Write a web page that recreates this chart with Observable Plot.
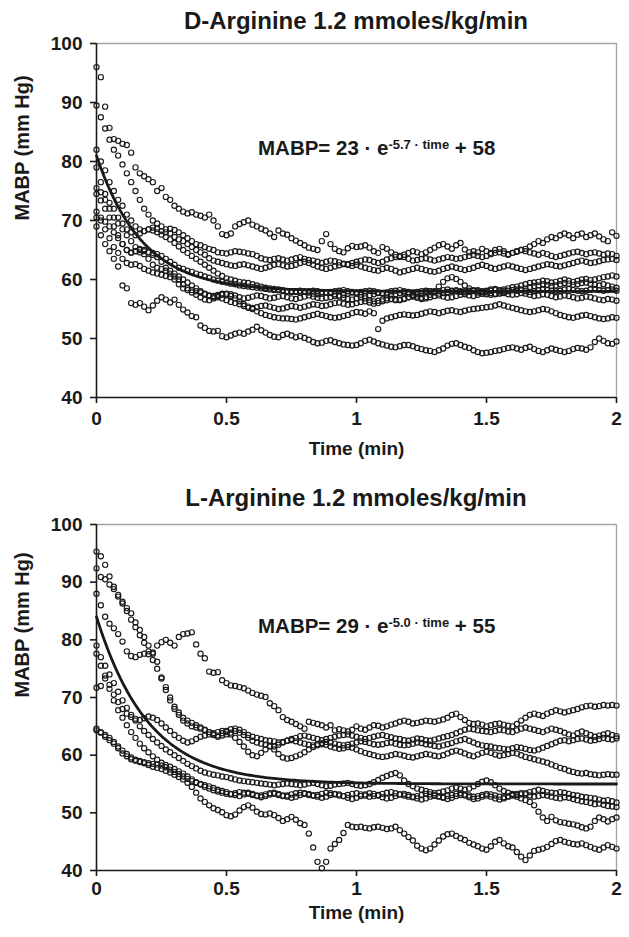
<!DOCTYPE html>
<html>
<head>
<meta charset="utf-8">
<script src="https://cdn.jsdelivr.net/npm/d3@7"></script>
<script src="https://cdn.jsdelivr.net/npm/@observablehq/plot@0.6"></script>
<style>
  html, body { margin: 0; padding: 0; background: #fff; }
  body { font-family: "Liberation Sans", Arial, sans-serif; color: #1a1a1a; }
  #wrap { position: relative; width: 629px; height: 937px; overflow: hidden; }
  .panel { position: absolute; left: 0; width: 629px; }
  .title { position: absolute; left: 96px; width: 520px; text-align: center; font-weight: bold; font-size: 24px; line-height: 24px; white-space: nowrap; }
  .eq { position: absolute; font-weight: bold; font-size: 20.5px; line-height: 20px; white-space: nowrap; }
  .eq sup { font-size: 13px; position: relative; top: -3px; vertical-align: top; }
</style>
</head>
<body>
<div id="wrap"></div>
<script>
// ---------- DATA ----------
const sampleStepMin = 1 / 60;           // one sample per second
const xTicks = [0, 0.5, 1, 1.5, 2];
const xTickLabels = ["0", "0.5", "1", "1.5", "2"];
const yTicks = [40, 50, 60, 70, 80, 90, 100];
const xAxisLabel = "Time (min)";
const yAxisLabel = "MABP (mm Hg)";
const dTitle = "D-Arginine 1.2 mmoles/kg/min";
const lTitle = "L-Arginine 1.2 mmoles/kg/min";
const dFit = {amp: 23, rate: 5.7, base: 58};
const lFit = {amp: 29, rate: 5.0, base: 55};

// D-Arginine traces (MABP, mm Hg, one value per second, 0..120 s)
const dA = [96,94.3,89.3,85.7,83.8,83.5,83,82.8,81.5,79, 78,77.5,77,76.5,75,75.5,74,73.5,72.5,72, 71.5,71.2,71.4,71,70.8,70.5,71,70,69,67.7, 67.5,67.8,69,69.4,69.7,70,69.3,69,68.6,68.3, 67.8,67.2,68.3,67.8,67.6,67,66.6,66.2,65.8,65.4, 65.2,65,66.5,67.7,66,65.2,64.8,64.6,65.3,65.7, 65.5,65.6,65.8,65.4,64.8,64.5,65.5,65.2,64.6,64.2, 63.8,64.2,64.5,64.8,64.6,64.3,64.6,65,65.4,65.8, 66,65.6,65.2,65.8,66.2,65.1,64.6,64.8,64.6,65.2, 64.8,64.5,65,65.2,64.8,64.3,64.5,64.7,65,65.2, 65.6,66,66.5,66.2,66.8,67.2,67,67.5,67.8,67.5, 67,67.6,67.8,67.2,67.5,67.8,67.3,66.8,66.5,68, 67.4];
const dB = [89.5,87.5,85.6,83.7,82,81,79.5,78,76.5,75, 73.5,72,71,70,69.5,69,68.5,68.6,68.4,68, 67.5,67,66.5,66,65.8,65.5,65.2,65,64.6,64.5, 64.4,64.6,64.8,64.7,64.6,64.4,64.3,64,63.6,63.4, 63.3,63.5,63.6,63.4,63.2,63.4,63.6,63.8,63.5,63.3, 63.2,63,62.8,63,63.2,63.1,62.9,62.7,62.6,62.8, 63,63.2,63.4,63.3,63,62.8,63,63.4,63.6,63.8, 64,63.8,63.5,63.2,63.3,63.5,63.6,63.4,63.2,63.4, 63.6,63.8,63.7,63.5,63.6,63.8,64,64.2,64,63.8, 64,64.3,64.5,64.6,64.4,64.2,64.5,64.8,65,64.8, 64.6,64.4,64.2,64.5,64.3,64,63.8,64,64.2,64.4, 64.6,64.7,64.5,64.3,64.5,64.6,64.4,64.2,64.4,64.3, 64];
const dC = [82,80,78.5,76.5,75,73.5,72.5,71,70,69, 68.5,68.2,68.5,68.8,68.6,68.2,68,67.8,67.2,66.8, 66.5,66,65.5,65,64.6,64.2,63.6,63.2,63,62.8, 62.6,62.4,62.3,62.5,62.6,62.4,62.2,62,61.8,62, 62.2,62.5,62.6,62.4,62.2,62.3,62.5,62.8,63,62.8, 62.5,62.2,62,61.8,62,62.2,62.4,62.6,62.5,62.3, 62.5,62.2,62,61.8,61.6,61.5,61.8,62,61.8,61.5, 61.2,61.4,61.6,61.8,62,61.8,61.6,61.4,61.3,61.5, 61.8,62,62.2,62,61.8,61.6,61.8,62,62.3,62.5, 62.3,62,61.8,62,62.2,62.4,62.2,62,61.8,61.6, 61.8,62,62.2,62.4,62.6,62.5,62.3,62.2,62.4,62.6, 62.8,63,63.2,63,62.8,62.9,63.1,63.3,63.4,63.5, 63.3];
const dD = [79,76.5,74.5,73,72,70.5,69.5,68.5,68,67.5, 67.8,68.2,68.5,68.3,68,67.6,67.2,66.8,66.2,65.6, 65,64.5,64,63.5,63,62.5,62,61.5,61,60.6, 60.2,60,59.8,59.6,59.5,59.4,59.2,59,58.8,58.6, 58.5,58.4,58.3,58.2,58,57.9,58,58.1,58,57.8, 57.6,57.5,57.6,57.8,57.7,57.5,57.3,57.4,57.6,57.8, 57.6,57.4,57.2,57.3,57.5,57.7,57.6,57.4,57.3,57.5, 57.7,57.8,57.6,57.4,57.5,57.7,57.9,58,57.8,57.6, 57.7,57.9,58,58.2,58,57.8,57.9,58.1,58.2,58, 58.1,58.3,58.4,58.2,58.3,58.5,58.7,58.8,59,59.2, 59.4,59.5,59.6,59.8,59.7,59.5,59.6,59.8,60,59.8, 59.6,59.8,60,60.1,59.9,60,60.2,60.4,60.5,60.7, 60.5];
const dE = [75.5,74.8,73.5,72,70.5,69.5,68.5,67.5,66.5,65.5, 65,64.8,64.6,64.5,64.3,64,63.5,63,62.5,62, 61.8,61.5,61.3,61,60.8,60.5,60.3,60,59.8,59.6, 59.5,59.3,59.2,59,58.9,58.8,58.7,58.6,58.5,58.4, 58.3,58.2,58.2,58.1,58,58,57.9,57.8,57.9,58, 58.1,58,57.9,57.8,57.9,58,58.1,58.2,58,57.9, 57.8,57.9,58,58.1,58,57.8,57.7,57.8,58,58.1, 58.2,58,57.9,57.8,57.9,58,58.1,58,57.9,58, 58.2,58.3,58.1,58,57.9,58,58.1,58.2,58,57.9, 58,58.1,58.2,58.1,58,58.1,58.2,58.3,58.2,58, 57.9,58,58.2,58.3,58.2,58.1,58,58.1,58.3,58.4, 58.2,58.1,58,58.1,58.3,58.4,58.2,58.1,58.2,58.3, 58.1];
const dF = [74.5,73.4,72,70.5,69,67.5,66,65,64.5,64.8, 65.2,65,64.6,64.2,63.8,63,62,61.5,61,60.5, 60,59.5,59,58.5,58,57.6,57.2,57,57.2,57.4, 57.6,57.5,57.3,57,56.8,56.9,57.1,57.3,57.2,57, 56.8,56.9,57.1,57.2,57,56.8,56.7,56.9,57.1,57.3, 57.1,56.9,56.8,56.9,57,57.2,57.1,56.9,56.7,56.6, 56.8,57,56.8,56.5,56.3,56.4,56.6,56.8,56.7,56.5, 56.6,56.8,57,57.1,56.9,56.7,56.8,57,57.2,57.3, 57.1,56.9,57,57.2,57.4,57.5,57.3,57.2,57.4,57.6, 57.8,57.7,57.5,57.6,57.8,58,58.2,58.1,58.3,58.5, 58.7,58.9,59,59.2,59.1,58.9,59,59.2,59.4,59.3, 59.1,59.2,59.4,59.5,59.3,59.1,59,59.2,59,58.8, 58.6];
const dG = [71.5,70.5,69.8,69,68,67,66,65,64.6,64.8, 64.6,64.3,63.5,62.5,62,61.8,61.5,61,60.5,60, 59.2,58.5,58.2,58,57.8,57.5,57.3,57.2,57.4,57.6, 57.5,57.2,56.8,56.3,55.8,55.4,55.2,55.3,55.5,55.6, 55.4,55.2,55,55.1,55.3,55.5,55.4,55.2,55.4,55.6, 55.8,55.7,55.5,55.6,55.8,56,56.1,55.9,55.7,55.8, 56,56.2,56.3,56.1,55.9,56,56.3,56.5,56.7,56.6, 56.5,56.7,57,57.2,57.1,56.9,57,57.4,58,58.8, 59.6,60.2,60.4,60.1,59.6,59,58.5,58.1,57.8,57.6, 57.5,57.4,57.6,57.8,57.7,57.5,57.4,57.5,57.7,57.6, 57.4,57.2,57.3,57.5,57.4,57.2,57,57.1,57.3,57.2, 57,56.8,56.9,57.1,57,56.8,56.6,56.5,56.7,56.6, 56.4];
const dH = [70.5,70,68.5,67,65.5,64.5,63.5,62.8,62.5,62.6, 62.3,61.8,61.5,61.2,61,60.8,60.6,60.4,60,59.2, 58.5,58.2,57.8,57.4,57,56.6,56.5,56.8,57,56.8, 56.5,56.2,56,55.8,55.5,55.2,55,54.6,54.3,54, 53.8,53.6,53.5,53.4,53.4,53.3,53.2,53.4,53.6,53.8, 54,54.2,54,53.8,53.6,53.5,53.6,53.8,54,54.3, 54.5,54.4,54.2,54.6,54.3,51.6,53,53.4,53.6,53.8, 54,54.1,54,53.9,54,54.2,54.4,54.6,54.5,54.3, 54.5,54.7,54.8,54.6,54.5,54.7,54.9,55,55.1,55.2, 55.3,55.4,55.6,55.8,55.6,55.4,55.2,55,54.8,54.6, 54.5,54.6,54.8,55,54.9,54.6,54.3,54,53.8,53.6, 53.5,53.7,53.9,54,53.8,53.6,53.4,53.3,53.4,53.6, 53.5];
const dI = [69,67.5,66,64.8,63.5,62.2,59,58.5,56,55.7, 56,55.4,54.8,55.6,56.4,57,56.6,56.1,56.6,55.7, 54.9,54.4,53.8,53.6,52.2,51.8,51.3,51.2,51.3,50.4, 50.2,50.5,50.8,51,50.8,51.2,51.5,52,51.4,51, 50.6,50.3,50.2,50.6,50.8,50.5,50.2,50.4,50.1,49.8, 49.4,49.2,49.3,49.6,49.7,49.4,49.2,49,48.9,48.8, 48.9,49.2,49.6,49.8,49.5,49.2,49,48.8,48.6,48.5, 48.7,48.9,48.9,48.7,48.4,48.2,48,47.9,47.7,48, 48.3,48.8,49.1,49.2,48.9,48.6,48.4,48,47.7,47.5, 47.6,47.7,47.9,48,48.2,48.4,48.5,48.3,48.1,48.4, 48.6,48.2,47.9,47.7,48,48.3,48.1,47.9,47.7,47.9, 48.2,48.4,48.3,48.1,48.5,49.4,50,49.6,49.2,49.1, 49.5];

// L-Arginine traces
const lA = [88,86,84,82.8,82,81,79.7,78,77.2,77, 77.4,77.6,77.5,77.8,79,79.6,80,79.5,79,80.5, 81,81.1,81.3,79.2,77.6,76.8,74.5,74.3,74.4,73, 72.5,72.1,72,71.8,71.6,71.2,70.8,70.5,70.3,70.1, 69,68.5,67.8,66.6,66.1,65.8,65.4,65,64.6,65.8, 65.6,65.4,65.2,64.8,65.2,64.3,64.5,64.3,64.1,64.4, 65,64.6,64.4,64.8,65.2,65.1,64.8,65,65.3,65.5, 65.8,66,65.8,65.5,65.6,65.8,66,65.9,65.8,66, 66.2,66.5,67,67.2,66.6,66.1,65.6,65.4,65.5,65.3, 65,65.2,65.4,65.5,65.3,65.1,65,65.4,66,66.5, 67,67.2,67,66.8,67.2,67.5,67.8,67.6,67.4,67.6, 67.8,68,68.3,68.5,68.6,68.4,68.5,68.7,68.6,68.7, 68.6];
const lB = [95.3,94.5,93,91,89.2,87.5,86.3,85.5,84.6,83, 81.7,80.5,79,77.6,76.2,73.3,71.3,69.5,68,67, 66,65.5,65,64.8,64.6,64.3,64,63.6,63.4,63.8, 64.2,64.5,64.6,64.4,64,63.5,63.2,63,62.8,62.6, 62.5,62.4,62.2,62.3,62.5,62.8,63,63.3,63.4,63.2, 63,62.8,62.6,62.8,63,63.2,63.4,63.5,63.6,63.4, 63.2,63,62.8,63,63.2,63.4,63.5,63.3,63.1,62.9, 62.8,62.6,62.5,62.7,62.9,62.8,62.6,62.5,62.7,62.9, 63.1,63.3,63.5,63.8,64.1,64.4,64.6,64.5,64.3,64.2, 64.1,64,64.2,64.4,64.3,64.1,64,64.3,64.6,64.8, 64.6,64.4,64.2,64,64.3,64.6,64.4,64.2,63.9,63.6, 63.4,63.8,64.1,63.8,63.5,63.2,63.4,63.6,63.8,63.5, 63.3];
const lC = [92.4,90.9,90.5,89.6,88.8,87.8,86.6,85,83.5,82.2, 80.8,79.5,78,76.5,75,73.5,71.8,70,68.4,67.4, 66.5,66,65.6,65.2,64.8,64.4,64,63.5,63.2,63.4, 63.6,63.9,64.2,63.9,63.5,63,62.5,62.2,62,61.8, 61.6,61.5,61.8,62.2,62.5,62.6,62.4,62.2,62,61.8, 61.7,61.9,62.1,62.3,62.2,62,61.8,61.7,61.8,62, 62.2,62.4,62.3,62.1,61.9,61.8,61.9,62.1,62.2,62, 61.8,61.7,61.8,62,62.2,62.1,61.9,61.8,61.6,61.5, 61.7,61.9,62.1,62.4,62.6,62.8,62.5,62.2,61.9,61.7, 61.6,61.5,61.3,61.2,61.1,61,61.2,61.4,61.3,61.1, 60.9,60.8,61,61.3,61.6,61.9,62.2,62.5,62.6,62.4, 62.6,62.8,62.9,62.7,62.5,62.6,62.8,63,62.8,62.7, 62.9];
const lD = [71.7,72,73.3,72.2,70.5,69.2,68,67.2,66.6,66.3, 66.1,66.4,66.7,66.5,66.1,65.5,64.8,64.2,63.5,63, 62.5,62.2,62.4,62.8,63.2,63.4,63.6,63.8,64,64.2, 64,63.6,63,62.3,61.5,60.6,60,59.8,60.4,61, 61.5,61,60.2,59.6,59.4,59.5,59.8,60.1,60.5,61, 61.4,61.7,61.9,61.8,61.5,61.3,61.1,61.2,61.4,61.3, 61,60.7,60.4,60.2,60,59.8,59.7,59.8,60,60.2, 60.1,59.9,59.7,59.6,59.8,60,60.2,60.1,59.9,59.8, 60,60.3,60.6,60.8,60.6,60.3,60,59.8,60.1,60.4, 60.6,60.4,60.1,59.9,60,60.2,60.4,60.3,60,59.7, 59.5,59.3,59.1,58.9,58.7,58.4,58.1,57.8,57.6,57.3, 57.1,56.9,56.8,56.9,56.7,56.6,56.5,56.6,56.7,56.6, 56.6];
const lE = [79,77,75.5,74,72.5,71,69.5,68.2,67,66, 65,64.2,63.5,62.8,62.2,61.6,61,60.5,60,59.5, 59,58.5,58.1,57.7,57.3,57,56.8,56.6,56.5,56.3, 56.2,56,55.8,55.6,55.5,55.4,55.3,55.2,55.1,55, 54.9,54.8,54.9,55,55.1,55,54.9,54.8,54.9,55.1, 55.2,55,54.8,54.6,54.7,54.9,55,55.1,55.2,55, 54.8,54.7,54.8,55,55.3,55.7,56.1,56.4,56.7,56.9, 56.5,55.6,55,54.6,54.2,54,53.8,53.6,53.4,53.5, 53.7,53.9,54.2,54.4,54.2,54,54.2,54.6,55,55.4, 55.6,55.3,54.8,54.2,53.8,53.5,53.3,53.1,53.2,53.4, 53.6,53.8,54,53.8,53.6,53.5,53.4,53.6,53.5,53.3, 53.1,53,52.8,52.7,52.6,52.5,52.3,52.1,52.2,52, 51.8];
const lF = [77.6,75.5,73.8,71.5,69.5,67.8,66.5,65.2,64,63, 62,61.2,60.5,59.8,59.2,58.7,58.3,58,57.6,57.2, 56.8,56.3,55.8,55.3,54.9,54.5,54.2,53.9,53.7,53.5, 53.3,53.2,53.4,53.6,53.5,53.3,53.1,52.9,53,53.2, 53.4,53.3,53.1,52.9,53,53.2,53.4,53.5,53.3,53.1, 53,53.1,53.3,53.5,53.4,53.2,53,52.9,53.1,53.3, 53.4,53.2,53,52.8,52.9,53.1,53.3,53.5,53.6,53.4, 53.2,53,52.8,52.7,52.9,53.1,53.3,53.2,53,52.8, 52.7,52.9,53.1,53.3,53.4,53.2,53,52.8,52.9,53.1, 53.3,53.2,53,52.8,52.7,52.9,53.1,53.3,53.4,53.2, 53,52.8,52.9,53.1,53,52.8,52.6,52.5,52.7,52.6, 52.4,52.2,52,51.9,51.7,51.5,51.6,51.4,51.2,51.1, 51];
const lG = [64.3,63.9,63.5,63,62.3,61.5,60.8,60.2,59.6,59.2, 59,58.8,58.6,58.5,58.4,58.2,57.9,57.5,57.1,56.7, 56.3,55.9,55.5,55.2,55,54.8,54.6,54.3,54,53.8, 53.6,53.3,53.1,52.9,53.2,53.5,53.3,53,52.7,52.9, 53.2,53.5,53.3,53,52.8,52.6,52.8,53.1,53.4,53.3, 53,52.8,52.6,52.8,53.1,53.3,53.2,52.9,52.6,52.4, 52.6,52.9,53.2,53.4,53.3,53,52.7,52.5,52.6,52.9, 53.2,53.3,53.1,52.8,52.5,52.3,52.5,52.8,53,52.9, 52.6,52.4,52.6,52.9,53.1,53,52.7,52.4,52.5,52.8, 53,52.8,52.5,52.3,52.5,52.8,53,52.8,52.5,52.2, 51.9,51.3,50.2,49.2,48.6,49.3,48.7,48.4,48.3,48.1, 48,47.8,47.5,47.3,47.6,48.6,49.2,48.9,48.5,48.9, 49.2];
const lH = [64.6,64,63.2,62.6,62,61.2,60.3,59.8,59.3,59, 58.8,58.6,58.3,58,57.8,57.6,57.3,57,56.6,56.2, 55.8,55.2,54.5,53.5,52.5,51.9,51.3,50.8,50.5,50.1, 49.6,49.4,49.7,50.4,51,51.3,50.9,50.2,49.8,49.7, 49.9,49.6,49.1,48.6,48.9,49.3,48.8,48.2,47.9,46.4, 44,41.5,40.4,41.5,43.8,44.6,45.3,46.5,47.9,47.6, 47.5,47.6,47.4,47.3,47.5,47.6,47.4,47.2,47.3,47.6, 47,46.4,45.8,45.2,44.3,43.8,43.5,43.8,44.5,45.2, 45.9,46.3,46.4,46,45.6,45.3,44.8,44.5,44.2,43.8, 43.6,44.2,45,45.3,44.7,44.2,44,43.2,42.4,41.8, 42.6,43.4,43.6,43.8,44.1,44.6,45.1,45.3,45,44.8, 44.6,44.5,44.7,44.4,44.1,43.8,43.6,44,44.4,44.1, 43.8];

const dTraces = [dA, dB, dC, dD, dE, dF, dG, dH, dI];
const lTraces = [lA, lB, lC, lD, lE, lF, lG, lH];

// ---------- DRAWING ----------
const fitTimes = d3.range(0, 2.0001, 0.01);
const ink = "#1a1a1a";

function makePanel({traces, fit, height, marginTop, marginBottom, xLabelDy, tickPad}) {
  const rows = traces.flatMap((vals, k) => vals.map((v, j) => ({trace: k, time: j * sampleStepMin, mabp: v})));
  const curve = fitTimes.map(t => ({time: t, mabp: fit.amp * Math.exp(-fit.rate * t) + fit.base}));
  return Plot.plot({
    width: 629, height, marginLeft: 96, marginRight: 13, marginTop, marginBottom,
    style: {fontFamily: "'Liberation Sans', Arial, sans-serif", fontWeight: "bold", fontSize: "19px", color: ink, background: "transparent", overflow: "visible"},
    x: {domain: [0, 2], label: null},
    y: {domain: [40, 100], label: null},
    marks: [
      Plot.ruleY([100], {stroke: "#a4a4a4", strokeWidth: 1.3}),
      Plot.ruleX([2], {stroke: "#a4a4a4", strokeWidth: 1.3}),
      Plot.dot(rows, {x: "time", y: "mabp", r: 2.6, stroke: ink, strokeWidth: 1.15}),
      Plot.line(curve, {x: "time", y: "mabp", stroke: ink, strokeWidth: 2.8}),
      Plot.ruleX([0], {stroke: ink, strokeWidth: 1.6}),
      Plot.ruleY([40], {stroke: ink, strokeWidth: 1.6}),
      Plot.axisX({ticks: xTicks, tickFormat: d => xTickLabels[xTicks.indexOf(d)], tickSize: 6, tickPadding: tickPad, label: null, strokeWidth: 1.6}),
      Plot.axisY({ticks: yTicks, tickSize: 6, tickPadding: 8, label: null, strokeWidth: 1.6}),
      Plot.text([yAxisLabel], {frameAnchor: "left", rotate: -90, dx: -74, fontSize: 20, fontWeight: "bold"}),
      Plot.text([xAxisLabel], {frameAnchor: "bottom", dy: xLabelDy, fontSize: 19, fontWeight: "bold"})
    ]
  });
}

const wrap = document.getElementById("wrap");

function addPanel(top, title, titleTop, eqFit, eqTop, plotOpts) {
  const holder = document.createElement("div");
  holder.className = "panel";
  holder.style.top = top + "px";
  holder.appendChild(makePanel(plotOpts));
  wrap.appendChild(holder);

  const t = document.createElement("div");
  t.className = "title";
  t.style.top = titleTop + "px";
  t.textContent = title;
  wrap.appendChild(t);

  const eq = document.createElement("div");
  eq.className = "eq";
  eq.style.left = "258px";
  eq.style.top = eqTop + "px";
  eq.innerHTML = `MABP= ${eqFit.amp} · e<sup>-${eqFit.rate.toFixed(1)} · time</sup> + ${eqFit.base}`;
  wrap.appendChild(eq);
}

addPanel(0, dTitle, 9, dFit, 138, {traces: dTraces, fit: dFit, height: 468, marginTop: 43, marginBottom: 71, xLabelDy: 57, tickPad: 8});
addPanel(468, lTitle, 486, lFit, 616, {traces: lTraces, fit: lFit, height: 469, marginTop: 56, marginBottom: 67, xLabelDy: 48, tickPad: 5});
</script>
</body>
</html>
